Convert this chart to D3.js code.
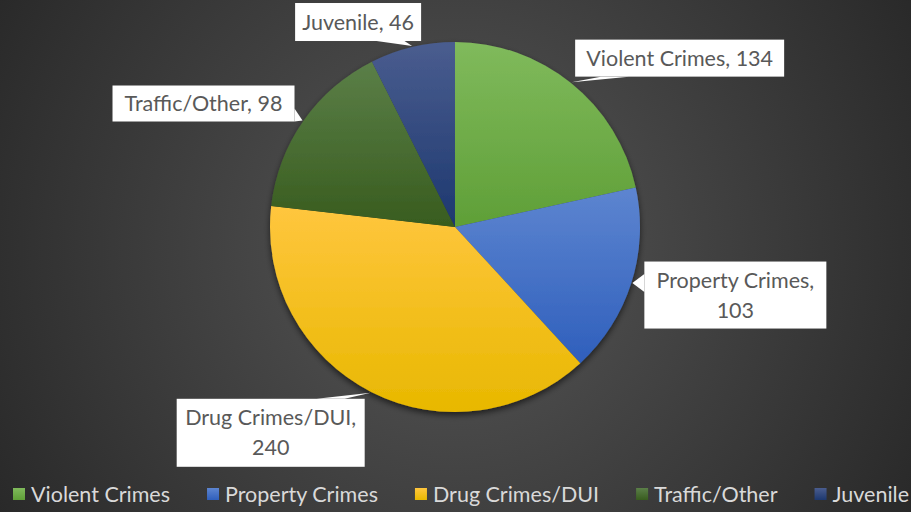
<!DOCTYPE html>
<html>
<head>
<meta charset="utf-8">
<script src="https://cdn.jsdelivr.net/npm/d3@7/dist/d3.min.js"></script>
<style>
  html, body { margin: 0; padding: 0; background: #2b2b2b; }
  svg { display: block; }
</style>
</head>
<body>
<div id="chart"></div>
<script>
// chart data
const categories = ["Violent Crimes", "Property Crimes", "Drug Crimes/DUI", "Traffic/Other", "Juvenile"];
const values = [134, 103, 240, 98, 46];
// top / bottom colour of each slice gradient
const colorsTop = ["#80ba5c", "#5d85d0", "#ffc63e", "#5b7f48", "#4a5d8f"];
const colorsBottom = ["#5f9f37", "#2f5fbc", "#e8b800", "#385c1e", "#1d386f"];
// label callout boxes: offset of box centre from the tip, box size, text lines
const labelLines = [
    ["Violent Crimes, 134"],
    ["Property Crimes,", "103"],
    ["Drug Crimes/DUI,", "240"],
    ["Traffic/Other, 98"],
    ["Juvenile, 46"]
];
const labelBoxes = [
    { dx: 108, dy: -24, w: 209, h: 37 },
    { dx: 103, dy: 12, w: 182, h: 67 },
    { dx: -100, dy: 40, w: 188, h: 68 },
    { dx: -99, dy: -17, w: 182, h: 36 },
    { dx: -54, dy: -24, w: 126, h: 38 }
];

const WIDTH = 911,
    HEIGHT = 512;

const cx = 455,
    cy = 227,
    radius = 185;

const FONT = "Lato, 'Open Sans', sans-serif";

const svg = d3.select("#chart")
    .append("svg")
    .attr("width", WIDTH)
    .attr("height", HEIGHT);

const defs = svg.append("defs");

// background: dark radial gradient
const bg = defs.append("radialGradient")
    .attr("id", "bg")
    .attr("gradientUnits", "userSpaceOnUse")
    .attr("cx", cx)
    .attr("cy", 250)
    .attr("r", 560);
bg.append("stop").attr("offset", 0).attr("stop-color", "#575757");
bg.append("stop").attr("offset", 1).attr("stop-color", "#262626");

svg.append("rect")
    .attr("width", WIDTH)
    .attr("height", HEIGHT)
    .attr("fill", "url(#bg)");

const shadow = defs.append("filter")
    .attr("id", "shadow")
    .attr("x", "-20%").attr("y", "-20%")
    .attr("width", "140%").attr("height", "140%");
shadow.append("feGaussianBlur").attr("in", "SourceAlpha").attr("stdDeviation", 3);
shadow.append("feOffset").attr("dx", 0).attr("dy", 3).attr("result", "blur");
shadow.append("feComponentTransfer").append("feFuncA").attr("type", "linear").attr("slope", 0.6);
const merge = shadow.append("feMerge");
merge.append("feMergeNode");
merge.append("feMergeNode").attr("in", "SourceGraphic");

categories.forEach((c, i) => {
    const g = defs.append("linearGradient")
        .attr("id", "slice" + i)
        .attr("x1", 0).attr("y1", 0)
        .attr("x2", 0).attr("y2", 1);
    g.append("stop").attr("offset", 0).attr("stop-color", colorsTop[i]);
    g.append("stop").attr("offset", 1).attr("stop-color", colorsBottom[i]);
});

const data = categories.map((c, i) => ({ category: c, value: values[i], index: i }));

const pie = d3.pie()
    .sort(null)
    .value(d => d.value);

const arc = d3.arc()
    .innerRadius(0)
    .outerRadius(radius);

const arcs = pie(data);

const pieGroup = svg.append("g")
    .attr("transform", `translate(${cx}, ${cy})`)
    .attr("filter", "url(#shadow)");

pieGroup.selectAll("path")
    .data(arcs)
    .join("path")
    .attr("d", arc)
    .attr("fill", d => `url(#slice${d.data.index})`)
    .attr("stroke", "none");

// callout labels
const labelGroup = svg.append("g")
    .attr("transform", `translate(${cx}, ${cy})`);

arcs.forEach((d, i) => {
    const mid = (d.startAngle + d.endAngle) / 2;
    const tx = Math.sin(mid) * (radius + 1),
        ty = -Math.cos(mid) * (radius + 1);
    const b = labelBoxes[i];
    const bx = tx + b.dx,
        by = ty + b.dy;
    const x0 = bx - b.w / 2,
        y0 = by - b.h / 2;

    // pick the box edge nearest to the tip for the callout tail
    let p1, p2;
    const dxTip = tx - bx,
        dyTip = ty - by;
    if (Math.abs(dxTip) / b.w > Math.abs(dyTip) / b.h) {
        const ex = dxTip > 0 ? x0 + b.w : x0;
        const yy = Math.max(y0 + 4, Math.min(y0 + b.h - 4, ty));
        p1 = [ex, Math.max(y0, yy - 9)];
        p2 = [ex, Math.min(y0 + b.h, yy + 9)];
    } else {
        const ey = dyTip > 0 ? y0 + b.h : y0;
        const xx = Math.max(x0 + 10, Math.min(x0 + b.w - 10, bx + (tx - bx) * 0.6));
        p1 = [Math.max(x0, xx - 14), ey];
        p2 = [Math.min(x0 + b.w, xx + 14), ey];
    }

    const g = labelGroup.append("g");
    g.append("path")
        .attr("d", `M${p1[0]},${p1[1]}L${tx},${ty}L${p2[0]},${p2[1]}Z`)
        .attr("fill", "#ffffff");
    g.append("rect")
        .attr("x", x0)
        .attr("y", y0)
        .attr("width", b.w)
        .attr("height", b.h)
        .attr("fill", "#ffffff");

    const lines = labelLines[i];
    const lh = 30;
    g.append("text")
        .attr("text-anchor", "middle")
        .attr("font-family", FONT)
        .attr("font-size", 21.5)
        .attr("fill", "#595959")
        .selectAll("tspan")
        .data(lines)
        .join("tspan")
        .attr("x", bx)
        .attr("y", (_, k) => by + (k - (lines.length - 1) / 2) * lh + 7.5)
        .text(t => t);
});

// legend: items laid out one after another from measured text widths
const legend = svg.append("g")
    .attr("transform", "translate(0, 494)");

const items = legend.selectAll("g")
    .data(data)
    .join("g");

items.append("rect")
    .attr("x", 0)
    .attr("y", -6)
    .attr("width", 12)
    .attr("height", 12)
    .attr("fill", d => `url(#slice${d.index})`);

items.append("text")
    .attr("x", 18)
    .attr("y", 7.5)
    .attr("font-family", FONT)
    .attr("font-size", 21.5)
    .attr("fill", "#d9d9d9")
    .text(d => d.category);

let legendCursor = 13;
items.each(function () {
    const item = d3.select(this);
    item.attr("transform", `translate(${legendCursor}, 0)`);
    legendCursor += 18 + item.select("text").node().getComputedTextLength() + 37;
});
</script>
</body>
</html>
